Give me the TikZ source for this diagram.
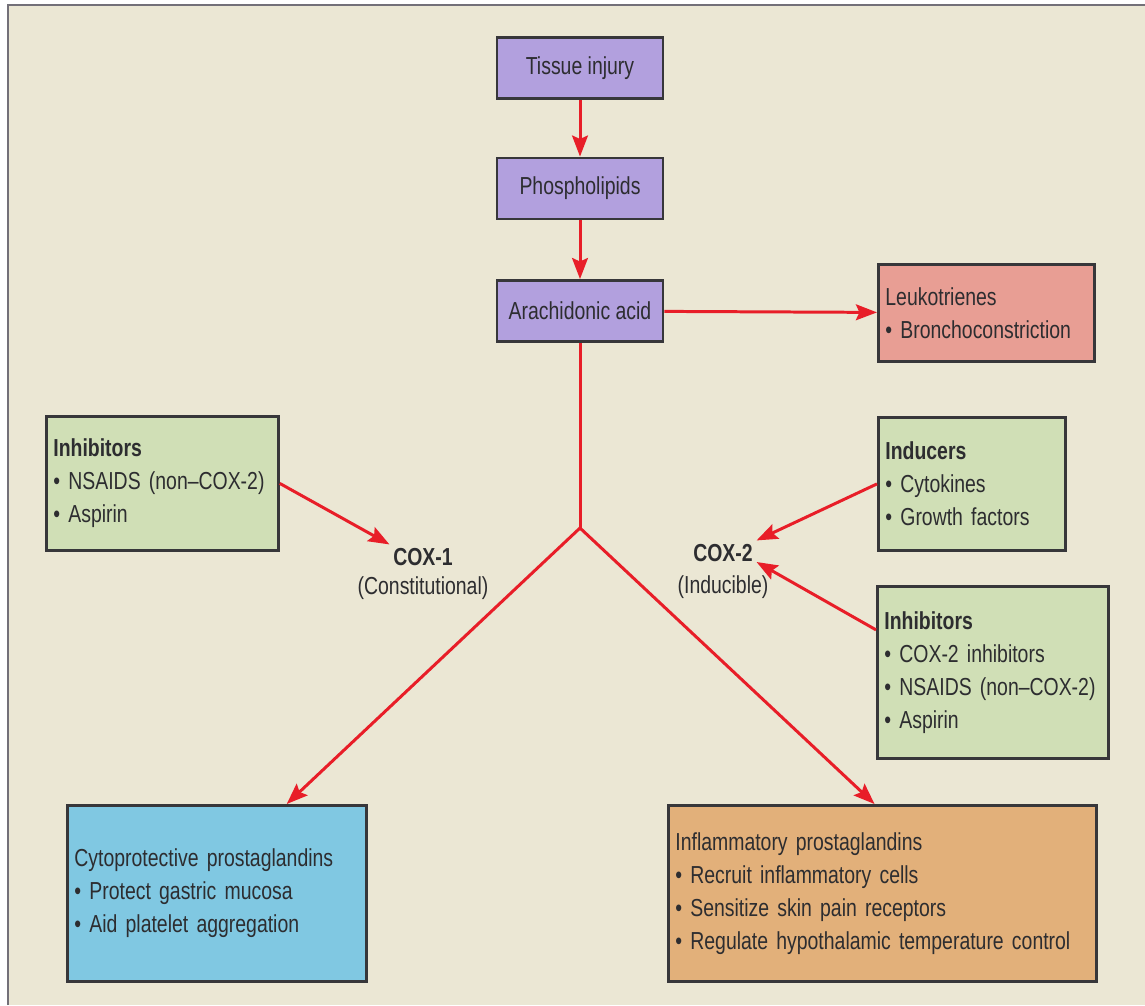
\documentclass[tikz,border=0pt]{standalone}
\usepackage{fontspec}
\setmainfont{Liberation Sans}[FakeStretch=0.79]
\usetikzlibrary{arrows.meta}
\definecolor{paper}{RGB}{235,231,212}
\definecolor{framegray}{RGB}{115,112,120}
\definecolor{ink}{RGB}{45,45,48}
\definecolor{boxline}{RGB}{55,55,58}
\definecolor{lilac}{RGB}{178,160,222}
\definecolor{salmon}{RGB}{232,158,148}
\definecolor{sage}{RGB}{208,223,182}
\definecolor{sky}{RGB}{128,200,226}
\definecolor{peach}{RGB}{226,176,122}
\definecolor{arrowred}{RGB}{232,30,40}
\newcommand\boxfont{\fontsize{14pt}{18.7pt}\selectfont}

\begin{document}
\begin{tikzpicture}[x=0.02cm,y=-0.02cm,
  font=\boxfont, text=ink,
  stepbox/.style={draw=boxline,line width=1.6pt,fill=lilac,minimum width=3.32cm,minimum height=1.22cm},
  infobox/.style 2 args={draw=boxline,line width=1.6pt,anchor=north west,align=left,inner xsep=0.14cm,text width=#1,minimum height=#2},
  flow/.style={draw=arrowred,line width=1.7pt,-{Stealth[length=12pt,width=9pt,inset=2pt]}},
  branch/.style={draw=arrowred,line width=1.7pt},
  enzyme/.style={inner sep=2pt,font=\boxfont\bfseries}]
\useasboundingbox (0,0) rectangle (1145,1005);
\fill[paper] (8,5) rectangle (1145,1005);
\draw[framegray,line width=1.2pt] (8,1005) -- (8,5) -- (1145,5);

\node[stepbox] (injury) at (580,68) {Tissue injury};
\node[stepbox] (lipids) at (580,188.5) {Phospholipids};
\node[stepbox] (acid) at (580,311) {Arachidonic acid};

\node[infobox={4.04cm}{1.94cm},fill=salmon] (leuko) at (877,263)
  {Leukotrienes\\\textbullet{} Bronchoconstriction};
\node[infobox={4.36cm}{2.68cm},fill=sage] (inhibL) at (45,415)
  {\textbf{Inhibitors}\\\textbullet{} NSAIDS (non--COX-2)\\\textbullet{} Aspirin};
\node[infobox={3.46cm}{2.66cm},fill=sage] (induce) at (877,416)
  {\textbf{Inducers}\\\textbullet{} Cytokines\\\textbullet{} Growth factors};
\node[infobox={4.34cm}{3.44cm},fill=sage] (inhibR) at (876,585)
  {\textbf{Inhibitors}\\\textbullet{} COX-2 inhibitors\\\textbullet{} NSAIDS (non--COX-2)\\\textbullet{} Aspirin};
\node[infobox={5.7cm}{3.52cm},fill=sky] (cyto) at (66,804)
  {Cytoprotective prostaglandins\\\textbullet{} Protect gastric mucosa\\\textbullet{} Aid platelet aggregation};
\node[infobox={8.28cm}{3.52cm},fill=peach] (inflam) at (667,804)
  {Inflammatory prostaglandins\\\textbullet{} Recruit inflammatory cells\\\textbullet{} Sensitize skin pain receptors\\\textbullet{} Regulate hypothalamic temperature control};

\node[enzyme] (cox1) at (423,557) {COX-1};
\node[inner sep=2pt] (cox1note) at (423,588) {(Constitutional)};
\node[enzyme] (cox2) at (723,553) {COX-2};
\node[inner sep=2pt] (cox2note) at (723,587) {(Inducible)};

\coordinate (fork) at (580,528);

\draw[flow] (injury) -- (lipids);
\draw[flow] (lipids) -- (acid);
\draw[flow] (acid) -- (leuko);
\draw[branch] (acid) -- (fork);
\draw[flow] (fork) -- (cyto.52.5);
\draw[flow] (fork) -- (inflam.95);
\draw[flow] (inhibL.east) -- (cox1.north west);
\draw[flow] (induce.west) -- (cox2.north east);
\draw[flow] (inhibR.160) -- (cox2.-15);
\end{tikzpicture}
\end{document}
